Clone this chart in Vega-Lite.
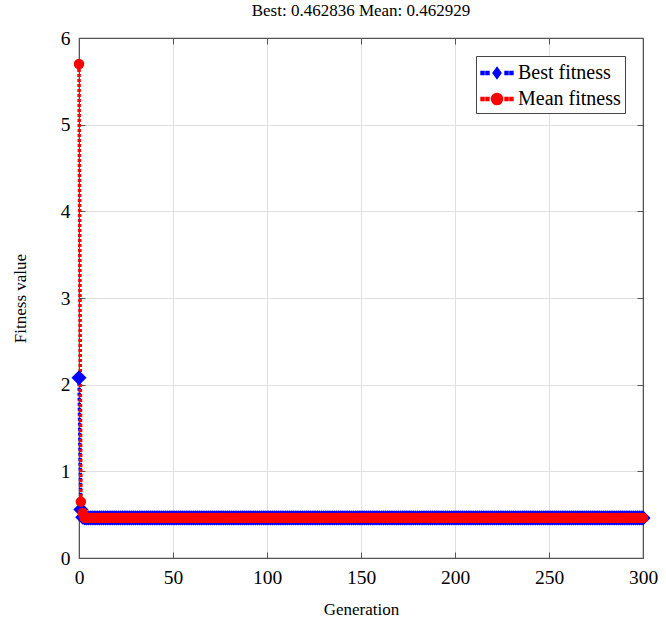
{
"$schema": "https://vega.github.io/schema/vega-lite/v6.json",
"width": 564, "height": 520,
"autosize": {"type": "none"},
"padding": {"left": 79, "top": 38, "right": 23, "bottom": 75},
"background": "white",
"config": {"view": {"stroke": "#555", "strokeWidth": 1.2}, "font": "Liberation Serif"},
"title": {"text": "Best: 0.462836 Mean: 0.462929", "font": "Liberation Serif", "fontSize": 17, "fontWeight": "normal", "color": "#000", "offset": 8},
"data": {"values": [
{"g":0,"Best fitness":2.08,"Mean fitness":5.7},
{"g":1,"Best fitness":0.56,"Mean fitness":0.65},
{"g":2,"Best fitness":0.47,"Mean fitness":0.52},
{"g":3,"Best fitness":0.462836,"Mean fitness":0.462929},{"g":4,"Best fitness":0.462836,"Mean fitness":0.462929},{"g":5,"Best fitness":0.462836,"Mean fitness":0.462929},{"g":6,"Best fitness":0.462836,"Mean fitness":0.462929},{"g":7,"Best fitness":0.462836,"Mean fitness":0.462929},{"g":8,"Best fitness":0.462836,"Mean fitness":0.462929},{"g":9,"Best fitness":0.462836,"Mean fitness":0.462929},
{"g":10,"Best fitness":0.462836,"Mean fitness":0.462929},{"g":11,"Best fitness":0.462836,"Mean fitness":0.462929},{"g":12,"Best fitness":0.462836,"Mean fitness":0.462929},{"g":13,"Best fitness":0.462836,"Mean fitness":0.462929},{"g":14,"Best fitness":0.462836,"Mean fitness":0.462929},{"g":15,"Best fitness":0.462836,"Mean fitness":0.462929},{"g":16,"Best fitness":0.462836,"Mean fitness":0.462929},{"g":17,"Best fitness":0.462836,"Mean fitness":0.462929},{"g":18,"Best fitness":0.462836,"Mean fitness":0.462929},{"g":19,"Best fitness":0.462836,"Mean fitness":0.462929},
{"g":20,"Best fitness":0.462836,"Mean fitness":0.462929},{"g":21,"Best fitness":0.462836,"Mean fitness":0.462929},{"g":22,"Best fitness":0.462836,"Mean fitness":0.462929},{"g":23,"Best fitness":0.462836,"Mean fitness":0.462929},{"g":24,"Best fitness":0.462836,"Mean fitness":0.462929},{"g":25,"Best fitness":0.462836,"Mean fitness":0.462929},{"g":26,"Best fitness":0.462836,"Mean fitness":0.462929},{"g":27,"Best fitness":0.462836,"Mean fitness":0.462929},{"g":28,"Best fitness":0.462836,"Mean fitness":0.462929},{"g":29,"Best fitness":0.462836,"Mean fitness":0.462929},
{"g":30,"Best fitness":0.462836,"Mean fitness":0.462929},{"g":31,"Best fitness":0.462836,"Mean fitness":0.462929},{"g":32,"Best fitness":0.462836,"Mean fitness":0.462929},{"g":33,"Best fitness":0.462836,"Mean fitness":0.462929},{"g":34,"Best fitness":0.462836,"Mean fitness":0.462929},{"g":35,"Best fitness":0.462836,"Mean fitness":0.462929},{"g":36,"Best fitness":0.462836,"Mean fitness":0.462929},{"g":37,"Best fitness":0.462836,"Mean fitness":0.462929},{"g":38,"Best fitness":0.462836,"Mean fitness":0.462929},{"g":39,"Best fitness":0.462836,"Mean fitness":0.462929},
{"g":40,"Best fitness":0.462836,"Mean fitness":0.462929},{"g":41,"Best fitness":0.462836,"Mean fitness":0.462929},{"g":42,"Best fitness":0.462836,"Mean fitness":0.462929},{"g":43,"Best fitness":0.462836,"Mean fitness":0.462929},{"g":44,"Best fitness":0.462836,"Mean fitness":0.462929},{"g":45,"Best fitness":0.462836,"Mean fitness":0.462929},{"g":46,"Best fitness":0.462836,"Mean fitness":0.462929},{"g":47,"Best fitness":0.462836,"Mean fitness":0.462929},{"g":48,"Best fitness":0.462836,"Mean fitness":0.462929},{"g":49,"Best fitness":0.462836,"Mean fitness":0.462929},
{"g":50,"Best fitness":0.462836,"Mean fitness":0.462929},{"g":51,"Best fitness":0.462836,"Mean fitness":0.462929},{"g":52,"Best fitness":0.462836,"Mean fitness":0.462929},{"g":53,"Best fitness":0.462836,"Mean fitness":0.462929},{"g":54,"Best fitness":0.462836,"Mean fitness":0.462929},{"g":55,"Best fitness":0.462836,"Mean fitness":0.462929},{"g":56,"Best fitness":0.462836,"Mean fitness":0.462929},{"g":57,"Best fitness":0.462836,"Mean fitness":0.462929},{"g":58,"Best fitness":0.462836,"Mean fitness":0.462929},{"g":59,"Best fitness":0.462836,"Mean fitness":0.462929},
{"g":60,"Best fitness":0.462836,"Mean fitness":0.462929},{"g":61,"Best fitness":0.462836,"Mean fitness":0.462929},{"g":62,"Best fitness":0.462836,"Mean fitness":0.462929},{"g":63,"Best fitness":0.462836,"Mean fitness":0.462929},{"g":64,"Best fitness":0.462836,"Mean fitness":0.462929},{"g":65,"Best fitness":0.462836,"Mean fitness":0.462929},{"g":66,"Best fitness":0.462836,"Mean fitness":0.462929},{"g":67,"Best fitness":0.462836,"Mean fitness":0.462929},{"g":68,"Best fitness":0.462836,"Mean fitness":0.462929},{"g":69,"Best fitness":0.462836,"Mean fitness":0.462929},
{"g":70,"Best fitness":0.462836,"Mean fitness":0.462929},{"g":71,"Best fitness":0.462836,"Mean fitness":0.462929},{"g":72,"Best fitness":0.462836,"Mean fitness":0.462929},{"g":73,"Best fitness":0.462836,"Mean fitness":0.462929},{"g":74,"Best fitness":0.462836,"Mean fitness":0.462929},{"g":75,"Best fitness":0.462836,"Mean fitness":0.462929},{"g":76,"Best fitness":0.462836,"Mean fitness":0.462929},{"g":77,"Best fitness":0.462836,"Mean fitness":0.462929},{"g":78,"Best fitness":0.462836,"Mean fitness":0.462929},{"g":79,"Best fitness":0.462836,"Mean fitness":0.462929},
{"g":80,"Best fitness":0.462836,"Mean fitness":0.462929},{"g":81,"Best fitness":0.462836,"Mean fitness":0.462929},{"g":82,"Best fitness":0.462836,"Mean fitness":0.462929},{"g":83,"Best fitness":0.462836,"Mean fitness":0.462929},{"g":84,"Best fitness":0.462836,"Mean fitness":0.462929},{"g":85,"Best fitness":0.462836,"Mean fitness":0.462929},{"g":86,"Best fitness":0.462836,"Mean fitness":0.462929},{"g":87,"Best fitness":0.462836,"Mean fitness":0.462929},{"g":88,"Best fitness":0.462836,"Mean fitness":0.462929},{"g":89,"Best fitness":0.462836,"Mean fitness":0.462929},
{"g":90,"Best fitness":0.462836,"Mean fitness":0.462929},{"g":91,"Best fitness":0.462836,"Mean fitness":0.462929},{"g":92,"Best fitness":0.462836,"Mean fitness":0.462929},{"g":93,"Best fitness":0.462836,"Mean fitness":0.462929},{"g":94,"Best fitness":0.462836,"Mean fitness":0.462929},{"g":95,"Best fitness":0.462836,"Mean fitness":0.462929},{"g":96,"Best fitness":0.462836,"Mean fitness":0.462929},{"g":97,"Best fitness":0.462836,"Mean fitness":0.462929},{"g":98,"Best fitness":0.462836,"Mean fitness":0.462929},{"g":99,"Best fitness":0.462836,"Mean fitness":0.462929},
{"g":100,"Best fitness":0.462836,"Mean fitness":0.462929},{"g":101,"Best fitness":0.462836,"Mean fitness":0.462929},{"g":102,"Best fitness":0.462836,"Mean fitness":0.462929},{"g":103,"Best fitness":0.462836,"Mean fitness":0.462929},{"g":104,"Best fitness":0.462836,"Mean fitness":0.462929},{"g":105,"Best fitness":0.462836,"Mean fitness":0.462929},{"g":106,"Best fitness":0.462836,"Mean fitness":0.462929},{"g":107,"Best fitness":0.462836,"Mean fitness":0.462929},{"g":108,"Best fitness":0.462836,"Mean fitness":0.462929},{"g":109,"Best fitness":0.462836,"Mean fitness":0.462929},
{"g":110,"Best fitness":0.462836,"Mean fitness":0.462929},{"g":111,"Best fitness":0.462836,"Mean fitness":0.462929},{"g":112,"Best fitness":0.462836,"Mean fitness":0.462929},{"g":113,"Best fitness":0.462836,"Mean fitness":0.462929},{"g":114,"Best fitness":0.462836,"Mean fitness":0.462929},{"g":115,"Best fitness":0.462836,"Mean fitness":0.462929},{"g":116,"Best fitness":0.462836,"Mean fitness":0.462929},{"g":117,"Best fitness":0.462836,"Mean fitness":0.462929},{"g":118,"Best fitness":0.462836,"Mean fitness":0.462929},{"g":119,"Best fitness":0.462836,"Mean fitness":0.462929},
{"g":120,"Best fitness":0.462836,"Mean fitness":0.462929},{"g":121,"Best fitness":0.462836,"Mean fitness":0.462929},{"g":122,"Best fitness":0.462836,"Mean fitness":0.462929},{"g":123,"Best fitness":0.462836,"Mean fitness":0.462929},{"g":124,"Best fitness":0.462836,"Mean fitness":0.462929},{"g":125,"Best fitness":0.462836,"Mean fitness":0.462929},{"g":126,"Best fitness":0.462836,"Mean fitness":0.462929},{"g":127,"Best fitness":0.462836,"Mean fitness":0.462929},{"g":128,"Best fitness":0.462836,"Mean fitness":0.462929},{"g":129,"Best fitness":0.462836,"Mean fitness":0.462929},
{"g":130,"Best fitness":0.462836,"Mean fitness":0.462929},{"g":131,"Best fitness":0.462836,"Mean fitness":0.462929},{"g":132,"Best fitness":0.462836,"Mean fitness":0.462929},{"g":133,"Best fitness":0.462836,"Mean fitness":0.462929},{"g":134,"Best fitness":0.462836,"Mean fitness":0.462929},{"g":135,"Best fitness":0.462836,"Mean fitness":0.462929},{"g":136,"Best fitness":0.462836,"Mean fitness":0.462929},{"g":137,"Best fitness":0.462836,"Mean fitness":0.462929},{"g":138,"Best fitness":0.462836,"Mean fitness":0.462929},{"g":139,"Best fitness":0.462836,"Mean fitness":0.462929},
{"g":140,"Best fitness":0.462836,"Mean fitness":0.462929},{"g":141,"Best fitness":0.462836,"Mean fitness":0.462929},{"g":142,"Best fitness":0.462836,"Mean fitness":0.462929},{"g":143,"Best fitness":0.462836,"Mean fitness":0.462929},{"g":144,"Best fitness":0.462836,"Mean fitness":0.462929},{"g":145,"Best fitness":0.462836,"Mean fitness":0.462929},{"g":146,"Best fitness":0.462836,"Mean fitness":0.462929},{"g":147,"Best fitness":0.462836,"Mean fitness":0.462929},{"g":148,"Best fitness":0.462836,"Mean fitness":0.462929},{"g":149,"Best fitness":0.462836,"Mean fitness":0.462929},
{"g":150,"Best fitness":0.462836,"Mean fitness":0.462929},{"g":151,"Best fitness":0.462836,"Mean fitness":0.462929},{"g":152,"Best fitness":0.462836,"Mean fitness":0.462929},{"g":153,"Best fitness":0.462836,"Mean fitness":0.462929},{"g":154,"Best fitness":0.462836,"Mean fitness":0.462929},{"g":155,"Best fitness":0.462836,"Mean fitness":0.462929},{"g":156,"Best fitness":0.462836,"Mean fitness":0.462929},{"g":157,"Best fitness":0.462836,"Mean fitness":0.462929},{"g":158,"Best fitness":0.462836,"Mean fitness":0.462929},{"g":159,"Best fitness":0.462836,"Mean fitness":0.462929},
{"g":160,"Best fitness":0.462836,"Mean fitness":0.462929},{"g":161,"Best fitness":0.462836,"Mean fitness":0.462929},{"g":162,"Best fitness":0.462836,"Mean fitness":0.462929},{"g":163,"Best fitness":0.462836,"Mean fitness":0.462929},{"g":164,"Best fitness":0.462836,"Mean fitness":0.462929},{"g":165,"Best fitness":0.462836,"Mean fitness":0.462929},{"g":166,"Best fitness":0.462836,"Mean fitness":0.462929},{"g":167,"Best fitness":0.462836,"Mean fitness":0.462929},{"g":168,"Best fitness":0.462836,"Mean fitness":0.462929},{"g":169,"Best fitness":0.462836,"Mean fitness":0.462929},
{"g":170,"Best fitness":0.462836,"Mean fitness":0.462929},{"g":171,"Best fitness":0.462836,"Mean fitness":0.462929},{"g":172,"Best fitness":0.462836,"Mean fitness":0.462929},{"g":173,"Best fitness":0.462836,"Mean fitness":0.462929},{"g":174,"Best fitness":0.462836,"Mean fitness":0.462929},{"g":175,"Best fitness":0.462836,"Mean fitness":0.462929},{"g":176,"Best fitness":0.462836,"Mean fitness":0.462929},{"g":177,"Best fitness":0.462836,"Mean fitness":0.462929},{"g":178,"Best fitness":0.462836,"Mean fitness":0.462929},{"g":179,"Best fitness":0.462836,"Mean fitness":0.462929},
{"g":180,"Best fitness":0.462836,"Mean fitness":0.462929},{"g":181,"Best fitness":0.462836,"Mean fitness":0.462929},{"g":182,"Best fitness":0.462836,"Mean fitness":0.462929},{"g":183,"Best fitness":0.462836,"Mean fitness":0.462929},{"g":184,"Best fitness":0.462836,"Mean fitness":0.462929},{"g":185,"Best fitness":0.462836,"Mean fitness":0.462929},{"g":186,"Best fitness":0.462836,"Mean fitness":0.462929},{"g":187,"Best fitness":0.462836,"Mean fitness":0.462929},{"g":188,"Best fitness":0.462836,"Mean fitness":0.462929},{"g":189,"Best fitness":0.462836,"Mean fitness":0.462929},
{"g":190,"Best fitness":0.462836,"Mean fitness":0.462929},{"g":191,"Best fitness":0.462836,"Mean fitness":0.462929},{"g":192,"Best fitness":0.462836,"Mean fitness":0.462929},{"g":193,"Best fitness":0.462836,"Mean fitness":0.462929},{"g":194,"Best fitness":0.462836,"Mean fitness":0.462929},{"g":195,"Best fitness":0.462836,"Mean fitness":0.462929},{"g":196,"Best fitness":0.462836,"Mean fitness":0.462929},{"g":197,"Best fitness":0.462836,"Mean fitness":0.462929},{"g":198,"Best fitness":0.462836,"Mean fitness":0.462929},{"g":199,"Best fitness":0.462836,"Mean fitness":0.462929},
{"g":200,"Best fitness":0.462836,"Mean fitness":0.462929},{"g":201,"Best fitness":0.462836,"Mean fitness":0.462929},{"g":202,"Best fitness":0.462836,"Mean fitness":0.462929},{"g":203,"Best fitness":0.462836,"Mean fitness":0.462929},{"g":204,"Best fitness":0.462836,"Mean fitness":0.462929},{"g":205,"Best fitness":0.462836,"Mean fitness":0.462929},{"g":206,"Best fitness":0.462836,"Mean fitness":0.462929},{"g":207,"Best fitness":0.462836,"Mean fitness":0.462929},{"g":208,"Best fitness":0.462836,"Mean fitness":0.462929},{"g":209,"Best fitness":0.462836,"Mean fitness":0.462929},
{"g":210,"Best fitness":0.462836,"Mean fitness":0.462929},{"g":211,"Best fitness":0.462836,"Mean fitness":0.462929},{"g":212,"Best fitness":0.462836,"Mean fitness":0.462929},{"g":213,"Best fitness":0.462836,"Mean fitness":0.462929},{"g":214,"Best fitness":0.462836,"Mean fitness":0.462929},{"g":215,"Best fitness":0.462836,"Mean fitness":0.462929},{"g":216,"Best fitness":0.462836,"Mean fitness":0.462929},{"g":217,"Best fitness":0.462836,"Mean fitness":0.462929},{"g":218,"Best fitness":0.462836,"Mean fitness":0.462929},{"g":219,"Best fitness":0.462836,"Mean fitness":0.462929},
{"g":220,"Best fitness":0.462836,"Mean fitness":0.462929},{"g":221,"Best fitness":0.462836,"Mean fitness":0.462929},{"g":222,"Best fitness":0.462836,"Mean fitness":0.462929},{"g":223,"Best fitness":0.462836,"Mean fitness":0.462929},{"g":224,"Best fitness":0.462836,"Mean fitness":0.462929},{"g":225,"Best fitness":0.462836,"Mean fitness":0.462929},{"g":226,"Best fitness":0.462836,"Mean fitness":0.462929},{"g":227,"Best fitness":0.462836,"Mean fitness":0.462929},{"g":228,"Best fitness":0.462836,"Mean fitness":0.462929},{"g":229,"Best fitness":0.462836,"Mean fitness":0.462929},
{"g":230,"Best fitness":0.462836,"Mean fitness":0.462929},{"g":231,"Best fitness":0.462836,"Mean fitness":0.462929},{"g":232,"Best fitness":0.462836,"Mean fitness":0.462929},{"g":233,"Best fitness":0.462836,"Mean fitness":0.462929},{"g":234,"Best fitness":0.462836,"Mean fitness":0.462929},{"g":235,"Best fitness":0.462836,"Mean fitness":0.462929},{"g":236,"Best fitness":0.462836,"Mean fitness":0.462929},{"g":237,"Best fitness":0.462836,"Mean fitness":0.462929},{"g":238,"Best fitness":0.462836,"Mean fitness":0.462929},{"g":239,"Best fitness":0.462836,"Mean fitness":0.462929},
{"g":240,"Best fitness":0.462836,"Mean fitness":0.462929},{"g":241,"Best fitness":0.462836,"Mean fitness":0.462929},{"g":242,"Best fitness":0.462836,"Mean fitness":0.462929},{"g":243,"Best fitness":0.462836,"Mean fitness":0.462929},{"g":244,"Best fitness":0.462836,"Mean fitness":0.462929},{"g":245,"Best fitness":0.462836,"Mean fitness":0.462929},{"g":246,"Best fitness":0.462836,"Mean fitness":0.462929},{"g":247,"Best fitness":0.462836,"Mean fitness":0.462929},{"g":248,"Best fitness":0.462836,"Mean fitness":0.462929},{"g":249,"Best fitness":0.462836,"Mean fitness":0.462929},
{"g":250,"Best fitness":0.462836,"Mean fitness":0.462929},{"g":251,"Best fitness":0.462836,"Mean fitness":0.462929},{"g":252,"Best fitness":0.462836,"Mean fitness":0.462929},{"g":253,"Best fitness":0.462836,"Mean fitness":0.462929},{"g":254,"Best fitness":0.462836,"Mean fitness":0.462929},{"g":255,"Best fitness":0.462836,"Mean fitness":0.462929},{"g":256,"Best fitness":0.462836,"Mean fitness":0.462929},{"g":257,"Best fitness":0.462836,"Mean fitness":0.462929},{"g":258,"Best fitness":0.462836,"Mean fitness":0.462929},{"g":259,"Best fitness":0.462836,"Mean fitness":0.462929},
{"g":260,"Best fitness":0.462836,"Mean fitness":0.462929},{"g":261,"Best fitness":0.462836,"Mean fitness":0.462929},{"g":262,"Best fitness":0.462836,"Mean fitness":0.462929},{"g":263,"Best fitness":0.462836,"Mean fitness":0.462929},{"g":264,"Best fitness":0.462836,"Mean fitness":0.462929},{"g":265,"Best fitness":0.462836,"Mean fitness":0.462929},{"g":266,"Best fitness":0.462836,"Mean fitness":0.462929},{"g":267,"Best fitness":0.462836,"Mean fitness":0.462929},{"g":268,"Best fitness":0.462836,"Mean fitness":0.462929},{"g":269,"Best fitness":0.462836,"Mean fitness":0.462929},
{"g":270,"Best fitness":0.462836,"Mean fitness":0.462929},{"g":271,"Best fitness":0.462836,"Mean fitness":0.462929},{"g":272,"Best fitness":0.462836,"Mean fitness":0.462929},{"g":273,"Best fitness":0.462836,"Mean fitness":0.462929},{"g":274,"Best fitness":0.462836,"Mean fitness":0.462929},{"g":275,"Best fitness":0.462836,"Mean fitness":0.462929},{"g":276,"Best fitness":0.462836,"Mean fitness":0.462929},{"g":277,"Best fitness":0.462836,"Mean fitness":0.462929},{"g":278,"Best fitness":0.462836,"Mean fitness":0.462929},{"g":279,"Best fitness":0.462836,"Mean fitness":0.462929},
{"g":280,"Best fitness":0.462836,"Mean fitness":0.462929},{"g":281,"Best fitness":0.462836,"Mean fitness":0.462929},{"g":282,"Best fitness":0.462836,"Mean fitness":0.462929},{"g":283,"Best fitness":0.462836,"Mean fitness":0.462929},{"g":284,"Best fitness":0.462836,"Mean fitness":0.462929},{"g":285,"Best fitness":0.462836,"Mean fitness":0.462929},{"g":286,"Best fitness":0.462836,"Mean fitness":0.462929},{"g":287,"Best fitness":0.462836,"Mean fitness":0.462929},{"g":288,"Best fitness":0.462836,"Mean fitness":0.462929},{"g":289,"Best fitness":0.462836,"Mean fitness":0.462929},
{"g":290,"Best fitness":0.462836,"Mean fitness":0.462929},{"g":291,"Best fitness":0.462836,"Mean fitness":0.462929},{"g":292,"Best fitness":0.462836,"Mean fitness":0.462929},{"g":293,"Best fitness":0.462836,"Mean fitness":0.462929},{"g":294,"Best fitness":0.462836,"Mean fitness":0.462929},{"g":295,"Best fitness":0.462836,"Mean fitness":0.462929},{"g":296,"Best fitness":0.462836,"Mean fitness":0.462929},{"g":297,"Best fitness":0.462836,"Mean fitness":0.462929},{"g":298,"Best fitness":0.462836,"Mean fitness":0.462929},{"g":299,"Best fitness":0.462836,"Mean fitness":0.462929},
{"g":300,"Best fitness":0.462836,"Mean fitness":0.462929}
]},
"transform": [{"fold": ["Best fitness", "Mean fitness"], "as": ["series", "value"]}],
"encoding": {
  "x": {"field": "g", "type": "quantitative",
        "scale": {"domain": [0, 300], "nice": false, "zero": false},
        "axis": {"title": "Generation", "values": [0,50,100,150,200,250,300], "labelFont": "Liberation Serif", "labelFontSize": 19.5, "labelColor": "#000", "titleFont": "Liberation Serif", "titleFontSize": 17, "titleFontWeight": "normal", "titleColor": "#000", "titlePadding": 15, "labelPadding": 16, "tickSize": -6, "tickColor": "#555", "domainColor": "#555", "gridColor": "#e0e0e0", "labelFlush": false}},
  "y": {"field": "value", "type": "quantitative",
        "scale": {"domain": [0, 6], "nice": false},
        "axis": {"title": "Fitness value", "values": [0,1,2,3,4,5,6], "labelFont": "Liberation Serif", "labelFontSize": 19.5, "labelColor": "#000", "titleFont": "Liberation Serif", "titleFontSize": 17, "titleFontWeight": "normal", "titleColor": "#000", "titlePadding": 31, "labelPadding": 15, "tickSize": -6, "tickColor": "#555", "domainColor": "#555", "gridColor": "#e0e0e0"}},
  "color": {"field": "series", "type": "nominal",
            "scale": {"domain": ["Best fitness", "Mean fitness"], "range": ["#0000ff", "#ff0000"]},
            "legend": {"title": null, "orient": "top-right", "offset": 18, "fillColor": "white", "strokeColor": "#444", "padding": 4, "labelFont": "Liberation Serif", "labelFontSize": 20, "labelColor": "#000", "symbolSize": 576, "symbolOffset": 4, "labelOffset": 8, "rowPadding": 3, "symbolType": "circle",
              "encode": {"symbols": {"update": {
                "fill": {"scale": "color", "field": "value"},
                "stroke": {"value": "transparent"},
                "strokeDash": {"value": []},
                "opacity": {"value": 1},
                "shape": {"signal": "datum.value === 'Best fitness' ? 'M-1.33,-0.125H-1.08V0.125H-1.33Z M-0.92,-0.125H-0.67V0.125H-0.92Z M0.67,-0.125H0.92V0.125H0.67Z M1.08,-0.125H1.33V0.125H1.08Z M0,-0.46L0.33,0L0,0.46L-0.33,0Z' : 'M-1.33,-0.125H-1.08V0.125H-1.33Z M-0.92,-0.125H-0.67V0.125H-0.92Z M0.67,-0.125H0.92V0.125H0.67Z M1.08,-0.125H1.33V0.125H1.08Z M-0.46,0A0.46,0.46,0,1,0,0.46,0A0.46,0.46,0,1,0,-0.46,0Z'"}
              }}}}}
},
"layer": [
  {"mark": {"type": "line", "strokeDash": [3, 2], "strokeWidth": 3.5}},
  {"transform": [{"filter": "datum.series === 'Best fitness'"}],
   "mark": {"type": "point", "filled": true, "opacity": 1, "shape": "diamond", "size": 230},
   "encoding": {
     "x": {"field": "g", "type": "quantitative", "axis": {"orient": "top", "labels": false, "title": null, "grid": false, "values": [0,50,100,150,200,250,300], "tickSize": -6, "tickColor": "#555", "domainColor": "#555"}},
     "y": {"field": "value", "type": "quantitative", "axis": {"orient": "right", "labels": false, "title": null, "grid": false, "values": [0,1,2,3,4,5,6], "tickSize": -6, "tickColor": "#555", "domainColor": "#555"}}
   }},
  {"transform": [{"filter": "datum.series === 'Mean fitness'"}],
   "mark": {"type": "point", "filled": true, "opacity": 1, "shape": "circle", "size": 110},
   "encoding": {
     "x": {"field": "g", "type": "quantitative", "axis": null},
     "y": {"field": "value", "type": "quantitative", "axis": null}
   }}
],
"resolve": {"axis": {"x": "independent", "y": "independent"}}
}
